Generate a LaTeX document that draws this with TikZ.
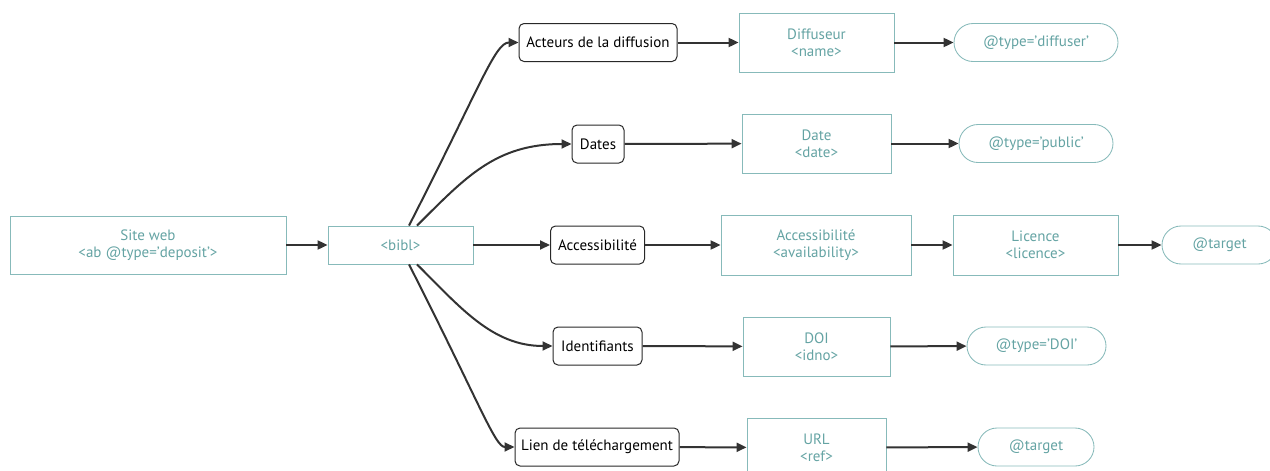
\documentclass[tikz,border=0pt]{standalone}
\usepackage{fontspec}
\setmainfont{PT Sans}
\usetikzlibrary{arrows.meta}
\definecolor{tealB}{RGB}{135,186,186}
\definecolor{tealT}{RGB}{100,163,163}
\definecolor{arrC}{RGB}{51,51,51}
\definecolor{darkB}{RGB}{40,40,40}
\tikzset{
  tbox/.style={draw=tealB, line width=0.85pt, text=tealT, align=center, inner sep=0pt,
    font=\fontsize{15}{17}\selectfont},
  dbox/.style={draw=darkB, line width=1pt, rounded corners=5pt, text=black, inner sep=0pt,
    minimum height=38pt, font=\fontsize{15}{17}\selectfont},
  pill/.style={tbox, rounded corners=19pt, minimum height=38pt},
  arr/.style={draw=arrC, line width=2pt, -{Triangle[length=10pt,width=9pt]}}
}
\begin{document}
\begin{tikzpicture}[x=1pt,y=-1pt]
\useasboundingbox (0,0) rectangle (1270,471);
\clip (0,0) rectangle (1270,471);
% left
\node[tbox, minimum width=276pt, minimum height=58pt] (site) at (148,245) {Site web\\<ab @type='deposit'>};
\node[tbox, minimum width=145pt, minimum height=38pt] (bibl) at (400.5,245) {<bibl>};
% row 1
\node[dbox, minimum width=158pt] (act) at (598,42.5) {Acteurs de la diffusion};
\node[tbox, minimum width=155pt, minimum height=59pt] (diff) at (816.5,42.5) {Diffuseur\\<name>};
\node[pill, minimum width=164pt] (tdiff) at (1036,42.5) {@type='diffuser'};
% row 2
\node[dbox, minimum width=52pt] (dates) at (598,144) {Dates};
\node[tbox, minimum width=149pt, minimum height=59pt] (date) at (816.5,143.5) {Date\\<date>};
\node[pill, minimum width=154pt] (tpub) at (1036,143.5) {@type='public'};
% row 3
\node[dbox, minimum width=94pt] (acc) at (597.5,245) {Accessibilité};
\node[tbox, minimum width=190pt, minimum height=60pt] (avail) at (816,245) {Accessibilité\\<availability>};
\node[tbox, minimum width=165pt, minimum height=60pt] (lic) at (1035.5,245) {Licence\\<licence>};
\node[pill, minimum width=115pt] (ttar) at (1219.5,245) {@target};
% row 4
\node[dbox, minimum width=89pt] (ident) at (597.5,346) {Identifiants};
\node[tbox, minimum width=147pt, minimum height=59pt] (doi) at (816.5,346.5) {DOI\\<idno>};
\node[pill, minimum width=139pt] (tdoi) at (1036.5,346) {@type='DOI'};
% row 5
\node[dbox, minimum width=164pt] (lien) at (597,447) {Lien de téléchargement};
\node[tbox, minimum width=139pt, minimum height=59pt] (url) at (816.5,447.5) {URL\\<ref>};
\node[pill, minimum width=116pt] (ttar2) at (1036,447) {@target};
% connectors
\draw[arr] (site) -- (bibl);
\draw[arr] (bibl) -- (acc);
\draw[arr] ([xshift=8.5pt]bibl.north) .. controls (480,87) and (495,42.5) .. (act.west);
\draw[arr] ([xshift=16.5pt]bibl.north) .. controls (465,178) and (495,144) .. (dates.west);
\draw[arr] ([xshift=16.5pt]bibl.south) .. controls (460,307) and (492,346) .. (ident.west);
\draw[arr] ([xshift=8.5pt]bibl.south) .. controls (480,404) and (495,447) .. (lien.west);
\draw[arr] (act) -- (diff);
\draw[arr] (diff) -- (tdiff);
\draw[arr] (dates) -- (date);
\draw[arr] (date) -- (tpub);
\draw[arr] (acc) -- (avail);
\draw[arr] (avail) -- (lic);
\draw[arr] (lic) -- (ttar);
\draw[arr] (ident) -- (doi);
\draw[arr] (doi) -- (tdoi);
\draw[arr] (lien) -- (url);
\draw[arr] (url) -- (ttar2);
\end{tikzpicture}
\end{document}
